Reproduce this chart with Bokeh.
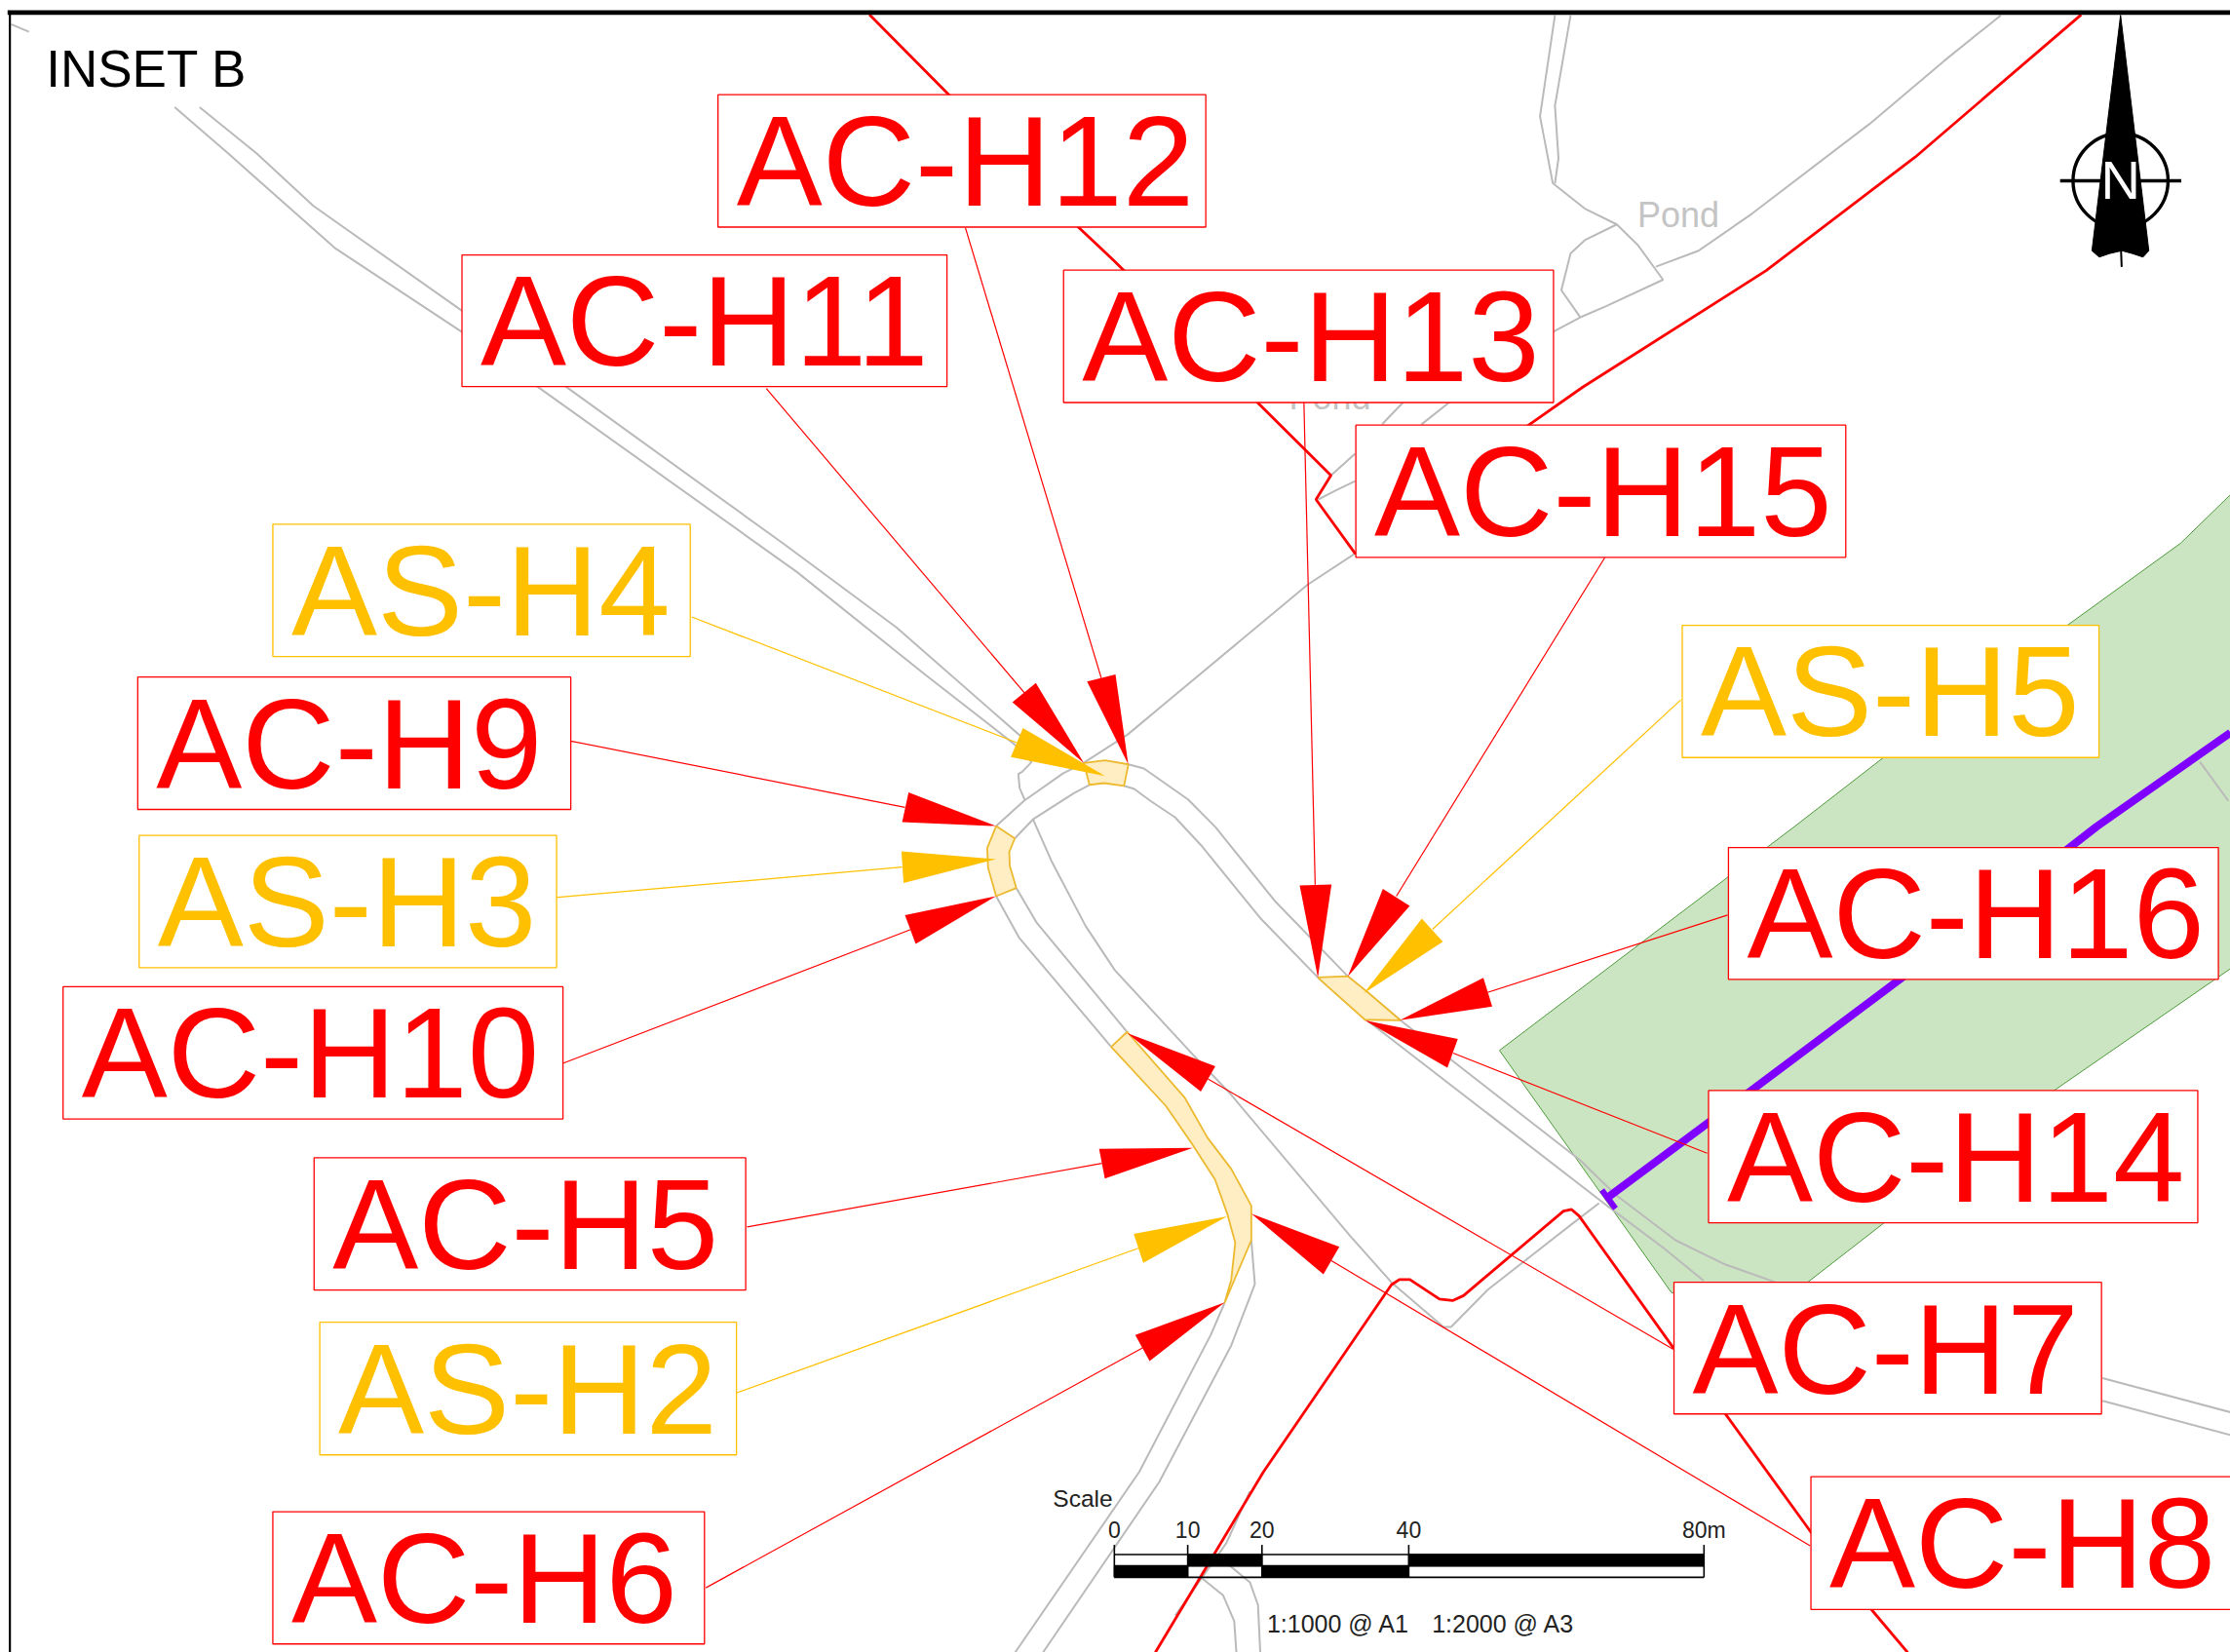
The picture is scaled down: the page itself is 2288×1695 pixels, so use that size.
from bokeh.plotting import figure
from bokeh.models import Range1d
from bokeh.core.properties import value
from bokeh.embed import file_html
from bokeh.resources import INLINE

RED = "#ff0000"
AMBER = "#ffc000"
GREY = "#bababa"

# ---- labels: name, left, right, top, bottom, colour
label_names = ["AC-H12", "AC-H11", "AC-H13", "AC-H15", "AS-H4", "AC-H9", "AS-H5", "AS-H3",
               "AC-H10", "AC-H5", "AS-H2", "AC-H6", "AC-H16", "AC-H14", "AC-H7", "AC-H8"]
label_left = [504.5, 324.5, 747.5, 953, 191.5, 96.5, 1182.5, 97.5, 44, 220.5, 224.5, 191.5, 1215, 1201, 1176.7, 1273]
label_right = [847.5, 665.5, 1092, 1297.5, 485, 401, 1475.5, 391, 395.5, 524, 517.5, 495, 1559.5, 1545, 1477.3, 1600]
label_top = [66.3, 179, 189.7, 298.7, 368.4, 475.9, 439.5, 587.3, 693.7, 814, 929.7, 1063, 595.8, 766.7, 901.6, 1038.3]
label_bottom = [159.4, 271.6, 282.8, 391.7, 461.4, 569, 532.5, 680.3, 786.7, 907.1, 1023, 1156, 688.5, 859.7, 994.2, 1131.7]

# ---- pointers: tip, base corner 1, base corner 2, leader start, leader end
arrow_tip = [(793, 537.3), (761.8, 536.4), (926.3, 687.2), (947.3, 686.5), (776.7, 545.5), (700, 580.7),
             (958.7, 698.3), (700, 604), (700, 630), (838.4, 807), (862.6, 855.2), (860.9, 915.7),
             (984, 717.3), (959.4, 717.4), (792.2, 726.3), (879.5, 853.4)]
arrow_base_a = [(764, 479), (711.5, 493.6), (913.5, 622.5), (972, 624.8), (718.9, 511.7), (638.5, 557),
                (999.4, 645.8), (633.5, 598.4), (636, 643.3), (772.5, 807.8), (796.8, 867.5), (797.9, 938.6),
                (1042.7, 687.4), (1024.7, 730.4), (854.2, 749.6), (941.4, 876.7)]
arrow_base_b = [(784, 474), (728, 480), (935.9, 621.8), (990.9, 636.9), (710.4, 532.2), (634, 578),
                (1014.2, 662), (635, 620.7), (643.5, 663.6), (776.5, 828.6), (803.5, 887.9), (808, 957),
                (1048.9, 707.7), (1017.4, 750.7), (844, 767.4), (930.2, 896)]
leader_start = [(678.5, 160), (538.5, 273), (916.5, 282.8), (1128, 392), (486, 433.6), (400, 520.7),
                (1181.5, 492), (390, 631), (395, 747.8), (525, 862.7), (516.5, 979.8), (496, 1116.5),
                (1214.4, 643.3), (1200, 810.8), (1176, 948.6), (1272.4, 1086.9)]
leader_end = [(774, 476.5), (720, 487), (924.4, 622), (981.5, 630), (714.6, 522), (636, 567.5),
              (1006.9, 653.3), (634, 609.6), (640, 653.5), (774.5, 818), (800, 877.7), (803, 947.8),
              (1045.6, 697.7), (1021.4, 740.4), (849, 758.5), (935.8, 886.4)]

# ---- highlighted road sections
section_h4 = [(761.8, 536.4), (776.7, 534.5), (793.1, 537.3), (790, 552.4), (776.2, 550.5), (765.7, 551.7)]
section_h3 = [(700.1, 580.7), (713.2, 589.4), (709.3, 599), (709.7, 608.8), (714.3, 624.3), (700.1, 630), (694.4, 610), (693.8, 596.2)]
section_h5 = [(926.3, 687.2), (947.3, 686.3), (961.7, 697.9), (984.5, 717.4), (959.4, 716.9), (934.3, 694.5)]
section_h2 = [(792.2, 725.5), (832.8, 771.9), (848.5, 799.6), (865.4, 821.9), (879.5, 847.8), (879.5, 872), (860.6, 916.4),
              (865.4, 899.7), (868.2, 873.8), (862.6, 853.4), (854, 829.3), (837.3, 803.4), (819.3, 777.4), (781, 736)]

# ---- grey roads
road_lines = [
    [(7.5, 16.7), (20, 22)],
    [(122.5, 75), (160, 107.5), (235, 174), (325, 233.5), (377.5, 271.6), (560, 402), (650, 474), (712.7, 523), (725, 535.7), (718.4, 542.5), (715.7, 544), (716.6, 554), (720.3, 562.4)],
    [(140, 75), (180, 107.5), (220, 144.5), (325, 218.6), (397.5, 271.6), (550, 381.7), (630, 441), (716, 516.3), (740, 535)],
    [(700.1, 580.7), (719.6, 563), (747, 543.7), (761.8, 536.4)],
    [(713.2, 589.4), (726, 576), (755, 557.4), (765.7, 551.7)],
    [(793.1, 537.3), (804, 540.2), (835, 562), (854.3, 581.4), (896.6, 634), (947, 686), (984.5, 717.4), (1111, 816), (1135.6, 840), (1177.8, 872), (1211.6, 888.6), (1248, 901.6)],
    [(790, 552.4), (797.2, 554.6), (808.6, 563), (825.8, 574.5), (844, 594), (886.3, 646), (926.3, 687.2), (961, 717.4), (1130, 848), (1169.4, 877.5), (1197.5, 900.5)],
    [(726, 576), (739, 605.3), (763, 651), (783.5, 682), (838.3, 741.3), (863.5, 767.6), (949.9, 870), (978, 901.6), (1014.6, 933), (1020, 933), (1045.6, 907), (1104.7, 860.8), (1124, 846)],
    [(700.1, 630), (716.1, 659), (781, 736)],
    [(714.3, 624.3), (728.7, 648.8), (792.2, 725.5)],
    [(860.6, 916.4), (851, 938.6), (800.7, 1035), (713.4, 1162)],
    [(879.5, 872), (882, 903), (865.4, 946), (814.8, 1042), (733, 1162)],
    [(878.5, 1048.6), (862, 1085), (826, 1136)],
    [(843.9, 1109), (859.6, 1121.7), (867.5, 1140), (869, 1162)],
    [(864.4, 1101), (878.5, 1112.6), (884.2, 1128.6), (885.8, 1162)],
    [(1093, 10.4), (1082.5, 81.5), (1091.5, 128.6), (1114, 146.4), (1136.5, 157.5), (1151.5, 172.3), (1169, 196.4), (1129, 215), (1110.5, 223), (1092.5, 232.7), (1040, 270), (1019, 282)],
    [(1104, 10.4), (1093, 74), (1095.5, 111), (1093, 128.6)],
    [(1136.5, 157.5), (1114, 168.6), (1104, 177.9), (1097.5, 203.8), (1110.5, 222.4)],
    [(1164, 187.2), (1194, 176), (1231.5, 150), (1314, 87), (1366.5, 42.6), (1406.5, 10.4)],
    [(1019, 282.4), (999, 298.3)],
    [(986.5, 282.4), (971.5, 298)],
    [(952.5, 318.7), (934, 335.4)],
    [(952.5, 338), (939, 344.6), (926.5, 351)],
    [(952.5, 389), (919, 411), (820, 493.4), (792.6, 516.3), (762, 536)],
    [(1478, 969), (1568, 993)],
    [(1478, 985), (1568, 1009)],
    [(1546.5, 535.5), (1566.5, 563)],
]

# ---- red boundary lines
boundary_lines = [
    [(611, 10), (666.5, 66), (757.5, 159), (784, 184), (883, 282), (935.5, 334), (925, 351), (952.5, 389), (1075.5, 298),
     (1112.5, 272), (1241.5, 190), (1346.5, 110), (1463, 10)],
    [(812, 1162), (888, 1035), (978, 903.4), (983.6, 899.7), (991, 899.7), (1011.8, 913.4), (1021, 914.5), (1028.7, 911),
     (1099, 851.5), (1104.7, 850.4), (1110, 855), (1175, 946), (1212.7, 994), (1272, 1076), (1315.7, 1132), (1341, 1162)],
]

# ---- green corridor and purple route
green_area = [(1568, 347.6), (1533, 381.7), (1454, 439), (1324, 532.5), (1261.5, 581), (1054, 738.5),
              (1175, 909), (1270.7, 901.6), (1445, 766), (1568, 681)]
purple_route = [(1130, 842), (1204, 787), (1335.5, 688.5), (1474, 581), (1568, 515)]
purple_end = [(1126, 836.7), (1135.6, 849.7)]

# ---- scale bar
scale_ticks = [0, 10, 20, 40, 80]
scale_tick_labels = ["0", "10", "20", "40", "80m"]
scale_tick_px = [783.2, 834.8, 887, 990.2, 1197.8]

# ---- north arrow
north_needle = [(1490.7, 10.3), (1510.6, 176), (1506.5, 180.5), (1499, 178), (1491.6, 176), (1483, 178), (1475.7, 180.5), (1470.6, 176)]
north_bar = [(1448.2, 126.8), (1533.4, 126.8)]
north_tail = [(1491, 175), (1491.5, 187.4)]


def xs(pts):
    return [a for a, _ in pts]


def ys(pts):
    return [b for _, b in pts]


p = figure(width=2288, height=1695, output_backend="svg", toolbar_location=None,
           x_axis_type=None, y_axis_type=None, min_border=0,
           x_range=Range1d(0, 1568), y_range=Range1d(1162, 0))
p.outline_line_color = None
p.background_fill_color = "white"
p.grid.visible = False

p.patch(xs(green_area), ys(green_area), fill_color="#cbe4c1", line_color="#4e9a3c", line_width=1)

p.multi_line([xs(r) for r in road_lines], [ys(r) for r in road_lines], line_color=GREY, line_width=2)

BASELINE_SHIFT = 0.355  # em


def small(x, y, txt, size, color="#222222", align="left", font="Liberation Sans"):
    p.text([x], [y], text=[txt], text_font=value(font), text_font_size=value(f"{size}px"),
           text_color=color, text_align=align, text_baseline="alphabetic", y_offset=-BASELINE_SHIFT * size)


small(1151, 159.4, "Pond", 36, "#c4c4c4")
small(906, 287.5, "Pond", 36, "#c4c4c4")

p.line(xs(purple_route), ys(purple_route), line_color="#7f00ff", line_width=8)
p.line(xs(purple_end), ys(purple_end), line_color="#7f00ff", line_width=6)

p.multi_line([xs(r) for r in boundary_lines], [ys(r) for r in boundary_lines], line_color=RED, line_width=2.8)

for sec in (section_h4, section_h3, section_h5, section_h2):
    p.patch(xs(sec), ys(sec), fill_color="#ffeec4", line_color="#ecb92f", line_width=1.8)

colors = [AMBER if n.startswith("AS") else RED for n in label_names]

# red pointers first, amber above
order = [i for i, c in enumerate(colors) if c == RED] + [i for i, c in enumerate(colors) if c == AMBER]
for i in order:
    p.line([leader_start[i][0], leader_end[i][0]], [leader_start[i][1], leader_end[i][1]], line_color=colors[i], line_width=1.2)
    tri = [arrow_tip[i], arrow_base_a[i], arrow_base_b[i]]
    p.patch(xs(tri), ys(tri), fill_color=colors[i], line_color=None)

p.quad(left=label_left, right=label_right, top=label_top, bottom=label_bottom, fill_color="white",
       line_color=colors, line_width=1.3)
p.text([l + 13 for l in label_left], [t + 79 for t in label_top], text=label_names,
       text_color=colors, text_font=value("Liberation Sans"), text_font_size=value("132px"),
       text_align="left", text_baseline="alphabetic", y_offset=-BASELINE_SHIFT * 132)

# scale bar: black cells alternate, open cells let the map show through
row_top, row_mid, row_bot, tick_top = 1093.1, 1101.1, 1109.1, 1086.3
upper_black = [1, 3]
lower_black = [0, 2]
p.quad(left=[scale_tick_px[i] for i in upper_black], right=[scale_tick_px[i + 1] for i in upper_black],
       top=[row_top] * 2, bottom=[row_mid] * 2, fill_color="black", line_color="black", line_width=1)
p.quad(left=[scale_tick_px[i] for i in lower_black], right=[scale_tick_px[i + 1] for i in lower_black],
       top=[row_mid] * 2, bottom=[row_bot] * 2, fill_color="black", line_color="black", line_width=1)
p.multi_line([[scale_tick_px[0], scale_tick_px[-1]]] * 3, [[row_top] * 2, [row_mid] * 2, [row_bot] * 2],
             line_color="black", line_width=1.6)
p.multi_line([[x, x] for x in scale_tick_px], [[tick_top, row_bot]] * len(scale_tick_px), line_color="black", line_width=1.6)
p.text(scale_tick_px, [1081.5] * 5, text=scale_tick_labels, text_font=value("Liberation Sans"), text_font_size=value("23px"),
       text_color="#222222", text_align="center", text_baseline="alphabetic", y_offset=-BASELINE_SHIFT * 23)
small(740, 1059.5, "Scale", 24.5)
small(890.5, 1147.8, "1:1000 @ A1", 25)
small(1006.5, 1147.8, "1:2000 @ A3", 25)

# north arrow
p.ellipse([1490.7], [126.8], width=[66.8], height=[66.8], fill_color=None, line_color="black", line_width=3.4)
p.line(xs(north_bar), ys(north_bar), line_color="black", line_width=3.4)
p.patch(xs(north_needle), ys(north_needle), fill_color="black", line_color="black", line_width=1)
p.line(xs(north_tail), ys(north_tail), line_color="black", line_width=2)
small(1490.7, 140, "N", 56, "white", "center")

# frame
p.line([5, 1568], [8.5, 8.5], line_color="black", line_width=4.8)
p.line([6.6, 6.6], [8.5, 1162], line_color="black", line_width=2.2)

small(32, 61, "INSET B", 53, "black")

open("out.html", "w").write(file_html(p, INLINE))
